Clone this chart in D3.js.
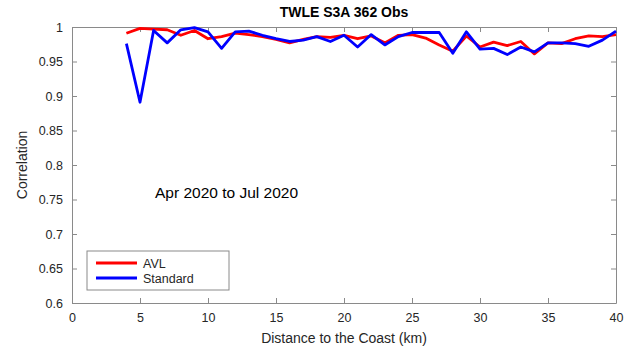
<!DOCTYPE html>
<html>
<head>
<meta charset="utf-8">
<script src="https://cdn.jsdelivr.net/npm/d3@7"></script>
<style>
  html, body { margin: 0; padding: 0; background: #fff; }
  svg { display: block; font-family: "Liberation Sans", Arial, Helvetica, sans-serif; }
</style>
</head>
<body>
<svg id="chart" width="624" height="348"></svg>
<script>
// Distance from the coast (km) for each correlation sample
const distanceKm = [4, 5, 6, 7, 8, 9, 10, 11, 12, 13, 14, 15, 16, 17, 18, 19, 20, 21, 22,
  23, 24, 25, 26, 27, 28, 29, 30, 31, 32, 33, 34, 35, 36, 37, 38, 39, 40];

// Correlation for the AVL retracker
const avlCorr = [0.991, 0.998, 0.997, 0.996, 0.988, 0.995, 0.983, 0.986, 0.991, 0.989,
  0.986, 0.982, 0.977, 0.982, 0.986, 0.985, 0.988, 0.983, 0.987, 0.977, 0.988, 0.989,
  0.984, 0.974, 0.965, 0.987, 0.971, 0.978, 0.973, 0.979, 0.961, 0.977, 0.976, 0.983,
  0.987, 0.986, 0.989];

// Correlation for the standard product
const standardCorr = [0.976, 0.891, 0.995, 0.977, 0.996, 0.999, 0.993, 0.969, 0.993, 0.994,
  0.988, 0.983, 0.979, 0.981, 0.986, 0.979, 0.988, 0.971, 0.989, 0.974, 0.986, 0.992,
  0.992, 0.992, 0.962, 0.993, 0.968, 0.969, 0.960, 0.971, 0.964, 0.977, 0.977, 0.976,
  0.972, 0.981, 0.994];

const xTicks = [0, 5, 10, 15, 20, 25, 30, 35, 40];
const yTicks = [0.6, 0.65, 0.7, 0.75, 0.8, 0.85, 0.9, 0.95, 1];
const seriesNames = ["AVL", "Standard"];
const seriesColors = ["#ff0000", "#0000ff"];

const svg = d3.select("#chart");
const plot = { left: 72, right: 616, top: 27, bottom: 303 };

const x = d3.scaleLinear().domain([0, 40]).range([plot.left, plot.right]);
const y = d3.scaleLinear().domain([0.6, 1]).range([plot.bottom, plot.top]);

const axisColor = "#262626";
const frameColor = "#8a8a8a";
const tickLen = 5;

// Bottom axis with inward ticks
const gx = svg.append("g")
  .attr("transform", `translate(0,${plot.bottom})`)
  .call(d3.axisBottom(x).tickValues(xTicks).tickSizeInner(-tickLen).tickSizeOuter(0)
    .tickPadding(10).tickFormat(d3.format("d")));
// Top axis: tick marks only
const gxTop = svg.append("g")
  .attr("transform", `translate(0,${plot.top})`)
  .call(d3.axisTop(x).tickValues(xTicks).tickSizeInner(-tickLen).tickSizeOuter(0).tickFormat(""));
// Left axis with inward ticks
const gy = svg.append("g")
  .attr("transform", `translate(${plot.left},0)`)
  .call(d3.axisLeft(y).tickValues(yTicks).tickSizeInner(-tickLen).tickSizeOuter(0)
    .tickPadding(9).tickFormat(d => d3.format("")(+d.toFixed(2))));
// Right axis: tick marks only
const gyRight = svg.append("g")
  .attr("transform", `translate(${plot.right},0)`)
  .call(d3.axisRight(y).tickValues(yTicks).tickSizeInner(-tickLen).tickSizeOuter(0).tickFormat(""));

[gx, gxTop, gy, gyRight].forEach(g => {
  g.select(".domain").attr("stroke", frameColor).attr("stroke-width", 1);
  g.selectAll(".tick line").attr("stroke", frameColor).attr("stroke-width", 1);
  g.selectAll(".tick text").attr("fill", axisColor).attr("font-size", 12.5)
    .attr("font-family", "Liberation Sans, Arial, sans-serif");
});

// Series lines
const line = d3.line()
  .x((d, i) => x(distanceKm[i]))
  .y(d => y(d));

[avlCorr, standardCorr].forEach((vals, s) => {
  svg.append("path")
    .datum(vals)
    .attr("fill", "none")
    .attr("stroke", seriesColors[s])
    .attr("stroke-width", 2.8)
    .attr("stroke-linejoin", "round")
    .attr("d", line);
});

// Title
svg.append("text")
  .attr("x", (plot.left + plot.right) / 2).attr("y", 17)
  .attr("text-anchor", "middle")
  .attr("font-size", 14).attr("font-weight", "bold").attr("fill", "#000")
  .text("TWLE S3A 362 Obs");

// Axis labels
svg.append("text")
  .attr("x", (plot.left + plot.right) / 2).attr("y", 343)
  .attr("text-anchor", "middle")
  .attr("font-size", 14).attr("fill", axisColor)
  .text("Distance to the Coast (km)");

svg.append("text")
  .attr("transform", `translate(27,${(plot.top + plot.bottom) / 2}) rotate(-90)`)
  .attr("text-anchor", "middle")
  .attr("font-size", 14).attr("fill", axisColor)
  .text("Correlation");

// Period annotation
svg.append("text")
  .attr("x", 155).attr("y", 198)
  .attr("font-size", 15.5).attr("fill", "#000")
  .text("Apr 2020 to Jul 2020");

// Legend
const lg = svg.append("g").attr("transform", "translate(87,251)");
lg.append("rect")
  .attr("width", 142).attr("height", 39)
  .attr("fill", "#fff").attr("stroke", frameColor).attr("stroke-width", 1);
seriesNames.forEach((name, i) => {
  const yy = 12 + i * 15;
  lg.append("line")
    .attr("x1", 9).attr("x2", 50).attr("y1", yy).attr("y2", yy)
    .attr("stroke", seriesColors[i]).attr("stroke-width", 2.8);
  lg.append("text")
    .attr("x", 56).attr("y", yy + 4.5)
    .attr("font-size", 12.5).attr("fill", axisColor)
    .text(name);
});
</script>
</body>
</html>
